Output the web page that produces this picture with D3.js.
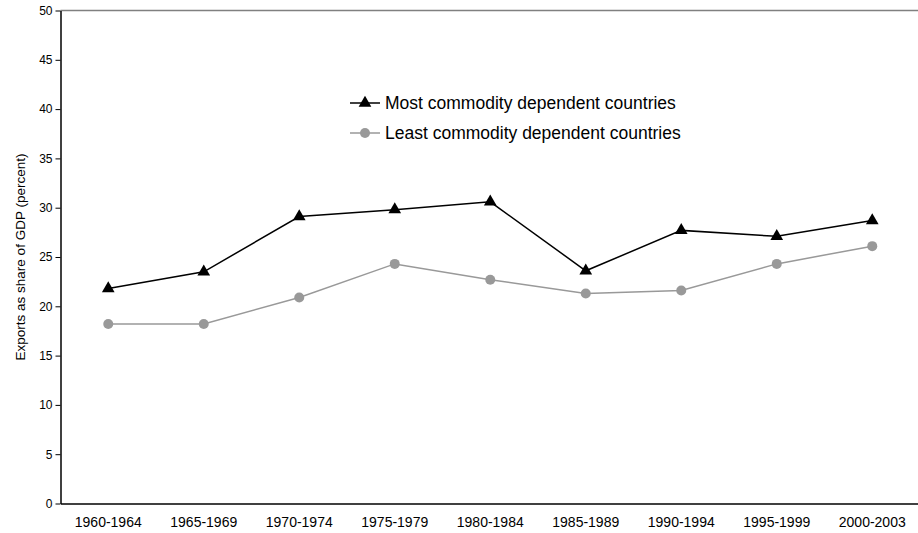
<!DOCTYPE html>
<html><head><meta charset="utf-8">
<script src="https://cdn.jsdelivr.net/npm/d3@7"></script>
<style>body{margin:0;background:#fff}svg{display:block;font-family:"Liberation Sans",Arial,sans-serif}</style>
</head><body><svg id="c" width="918" height="533"></svg>
<script>
const categories = ["1960-1964","1965-1969","1970-1974","1975-1979","1980-1984","1985-1989","1990-1994","1995-1999","2000-2003"];
const mostDependent = [21.8, 23.5, 29.1, 29.8, 30.6, 23.6, 27.7, 27.1, 28.7];
const leastDependent = [18.2, 18.2, 20.9, 24.3, 22.7, 21.3, 21.6, 24.3, 26.1];
const yTicks = [0,5,10,15,20,25,30,35,40,45,50];
const seriesNames = ["Most commodity dependent countries","Least commodity dependent countries"];

const svg = d3.select("#c");
const m = {l:60.5, r:-2, t:10.5, b:30};
const W = 918, H = 533;
const x = d3.scaleBand().domain(categories).range([m.l, W - m.r]);
const y = d3.scaleLinear().domain([0,50]).range([503.5, m.t]);
const FF = "Liberation Sans, Arial, sans-serif";

// top frame line
svg.append("line").attr("x1", m.l).attr("x2", W).attr("y1", y(50)).attr("y2", y(50))
  .attr("stroke", "#808080").attr("stroke-width", 1.5);

const ya = svg.append("g").attr("transform", `translate(${m.l},0)`)
  .call(d3.axisLeft(y).tickValues(yTicks).tickSizeInner(5).tickSizeOuter(0).tickPadding(3));
ya.select(".domain").attr("stroke","#000").attr("stroke-width",1.5);
ya.selectAll("text").attr("font-size", 12).attr("fill","#000").attr("font-family",FF);

const xa = svg.append("g").attr("transform", `translate(0,${y(0)})`)
  .call(d3.axisBottom(x).tickSize(0).tickPadding(14));
xa.select(".domain").attr("stroke","#000").attr("stroke-width",1.5);
xa.selectAll("text").attr("font-size", 14).attr("fill","#000").attr("font-family",FF);

svg.append("text").attr("transform", `translate(25,${(y(0)+y(50))/2}) rotate(-90)`)
  .attr("text-anchor","middle").attr("font-size", 13.5).text("Exports as share of GDP (percent)");

const cx = d => x(d) + x.bandwidth()/2;
const line = d3.line().x((v,i)=>cx(categories[i])).y(v=>y(v));
const tri = d3.symbol().type(d3.symbolTriangle).size(70);

svg.append("path").datum(leastDependent).attr("d", line).attr("fill","none").attr("stroke","#999").attr("stroke-width",1.5);
svg.selectAll(".lc").data(leastDependent).join("circle").attr("cx",(v,i)=>cx(categories[i])).attr("cy",v=>y(v)).attr("r",5).attr("fill","#999");

svg.append("path").datum(mostDependent).attr("d", line).attr("fill","none").attr("stroke","#000").attr("stroke-width",1.5);
svg.selectAll(".mt").data(mostDependent).join("path").attr("d", tri)
  .attr("transform",(v,i)=>`translate(${cx(categories[i])},${y(v)})`).attr("fill","#000");

// legend
const lg = svg.append("g");
const rows = [{name:seriesNames[0], color:"#000", shape:"tri", yy:103},{name:seriesNames[1], color:"#999", shape:"circ", yy:133}];
rows.forEach(r => {
  lg.append("line").attr("x1",350).attr("x2",380).attr("y1",r.yy).attr("y2",r.yy).attr("stroke",r.color).attr("stroke-width",1.5);
  if (r.shape==="tri") lg.append("path").attr("d", tri).attr("transform",`translate(365,${r.yy})`).attr("fill",r.color);
  else lg.append("circle").attr("cx",365).attr("cy",r.yy).attr("r",5).attr("fill",r.color);
  lg.append("text").attr("x",385).attr("y",r.yy).attr("dy","0.36em").attr("font-size",17.5).attr("fill","#000").attr("font-family",FF).text(r.name);
});
</script></body></html>
